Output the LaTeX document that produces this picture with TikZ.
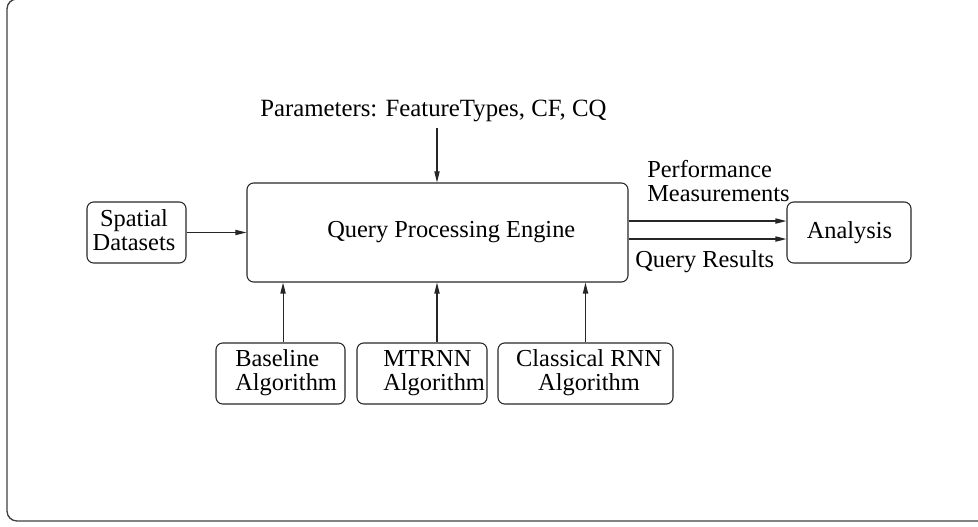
\documentclass[tikz,border=0pt]{standalone}
\usepackage{fontspec}
\setmainfont{Liberation Serif}
\usetikzlibrary{arrows.meta}
\begin{document}
\begin{tikzpicture}[x=0.75pt,y=-0.75pt,
  box/.style={draw=black!85, line width=0.8pt, rounded corners=5pt, inner sep=0pt},
  lbl/.style={inner sep=0pt, font=\fontsize{18.3pt}{18pt}\selectfont},
  arr/.style={draw=black!85, line width=0.8pt, -{Triangle[length=8.25pt,width=3.9pt]}}]
\useasboundingbox (0,0) rectangle (978,527);
% outer frame, running past the top and right edges
\begin{scope}
  \clip (0,0) rectangle (978,527);
  \draw[line width=1pt, draw=black!75, rounded corners=7.5pt] (7,-1) rectangle (995,521);
\end{scope}

% boxes
\node[box, minimum width=74.25pt, minimum height=45.75pt] (sp) at (136.5,232.5) {};
\node[box, minimum width=285.75pt, minimum height=74.25pt] (main) at (437.5,232.5) {};
\node[box, minimum width=93pt, minimum height=45.75pt] (an) at (849,232.5) {};
\node[box, minimum width=96.75pt, minimum height=45.75pt] (base) at (280.5,373.5) {};
\node[box, minimum width=97.5pt, minimum height=45.75pt] (mt) at (422,373.5) {};
\node[box, minimum width=131.25pt, minimum height=45.75pt] (cl) at (585.5,373.5) {};

% labels (multi-line labels are placed by the baseline of their last line)
\node[lbl, anchor=base west, font=\fontsize{18.6pt}{18pt}\selectfont] (ptxt) at (260,117) {Parameters: FeatureTypes, CF, CQ};
\coordinate (pin) at (437,128);
\node[lbl, align=center, anchor=base] (sptxt) at (134,250.5) {Spatial\\Datasets};
\node[lbl, anchor=base west] (qtxt) at (327,238) {Query Processing Engine};
\node[lbl, anchor=base] (antxt) at (849.5,239) {Analysis};
\node[lbl, align=left, anchor=base west] (pmtxt) at (647,202) {Performance\\Measurements};
\node[lbl, anchor=base west] (qrtxt) at (635,268) {Query Results};
\node[lbl, align=left, anchor=base west] (btxt) at (235,390.5) {Baseline\\Algorithm};
\node[lbl, align=left, anchor=base west] (mtxt) at (383,390.5) {MTRNN\\Algorithm};
\node[lbl, align=center, anchor=base] (ctxt) at (589,390.5) {Classical RNN\\Algorithm};

% connectors
\draw[arr] (sp.east) -- (main.west);
\draw[arr] (pin) -- (pin |- main.north);
\draw[arr] ([yshift=8.6pt]main.east) -- ([yshift=8.6pt]an.west);
\draw[arr] ([yshift=-4.9pt]main.east) -- ([yshift=-4.9pt]an.west);
\draw[arr] ([xshift=1.9pt]base.north) -- ([xshift=1.9pt]base.north |- main.south);
\draw[arr] ([xshift=11.25pt]mt.north) -- ([xshift=11.25pt]mt.north |- main.south);
\draw[arr] (cl.north) -- (cl.north |- main.south);
\end{tikzpicture}
\end{document}
